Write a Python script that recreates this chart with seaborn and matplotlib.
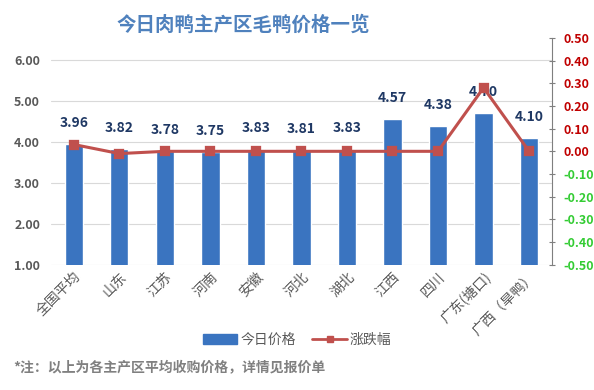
import numpy as np
import pandas as pd
import matplotlib
matplotlib.use("Agg")
import matplotlib.pyplot as plt
import seaborn as sns
from matplotlib.patches import Patch
from matplotlib.lines import Line2D

# =========================
# DATA
# =========================
regions = ["全国平均", "山东", "江苏", "河南", "安徽", "河北", "湖北",
           "江西", "四川", "广东(塘口)", "广西（旱鸭）"]
prices = [3.96, 3.82, 3.78, 3.75, 3.83, 3.81, 3.83, 4.57, 4.38, 4.70, 4.10]
changes = [0.03, -0.01, 0.00, 0.00, 0.00, 0.00, 0.00, 0.00, 0.00, 0.28, 0.00]

right_ticks = [0.5, 0.4, 0.3, 0.2, 0.1, 0.0, -0.1, -0.2, -0.3, -0.4, -0.5]

BAR_COLOR = "#3a74c0"
LINE_COLOR = "#c0504d"
TXT_GRAY = "#595959"

sns.set_style("white")
plt.rcParams["font.family"] = ["Noto Sans CJK SC", "DejaVu Sans"]

df = pd.DataFrame({"region": regions, "price": prices, "change": changes})

fig = plt.figure(figsize=(5.94, 3.9), dpi=100)
ax = fig.add_axes([0.086, 0.321, 0.843, 0.582])

sns.barplot(data=df, x="region", y="price", color=BAR_COLOR, width=0.4,
            saturation=1, ax=ax, zorder=2)
ax.set_ylim(1, 6.54)
ax.set_yticks([1, 2, 3, 4, 5, 6])
ax.set_yticklabels([f"{v:.2f}" for v in [1, 2, 3, 4, 5, 6]],
                   fontsize=9, fontweight="bold", color=TXT_GRAY)
ax.yaxis.grid(True, color="#d9d9d9", linewidth=0.8, zorder=0)
ax.set_axisbelow(True)
ax.set_xlabel("")
ax.set_ylabel("")
for s in ax.spines.values():
    s.set_visible(False)
ax.tick_params(axis="both", length=0)
ax.tick_params(axis="y", pad=8)
ax.set_xticks(range(len(regions)))
ax.set_xticklabels(regions, rotation=45, ha="right", rotation_mode="anchor",
                   fontsize=10, color=TXT_GRAY)

for i, v in enumerate(prices):
    ax.annotate(f"{v:.2f}", (i, v), xytext=(0, 10), textcoords="offset points",
                ha="center", va="bottom", fontsize=10, fontweight="bold",
                color="#1f3864", zorder=5)

ax2 = ax.twinx()
sns.pointplot(data=df, x="region", y="change", color=LINE_COLOR, markers="s",
              markersize=6, linewidth=2.2, ax=ax2)
ax2.set_ylim(-0.5, 0.5)
ax2.set_yticks(right_ticks)
ax2.set_yticklabels([f"{v:.2f}" for v in right_ticks], fontsize=9,
                    fontweight="bold")
for lbl, v in zip(ax2.get_yticklabels(), right_ticks):
    lbl.set_color("#c00000" if v >= 0 else "#33cc33")
ax2.set_ylabel("")
ax2.set_xlabel("")
for name, s in ax2.spines.items():
    s.set_visible(name == "right")
ax2.spines["right"].set_color("#7f7f7f")
ax2.tick_params(axis="y", direction="inout", length=5, color="#7f7f7f", pad=6)
ax2.set_xlim(-0.5, len(regions) - 0.5)
ax.set_xlim(-0.5, len(regions) - 0.5)

fig.text(0.41, 0.935, "今日肉鸭主产区毛鸭价格一览", ha="center", va="center",
         fontsize=14, fontweight="bold", color="#4f81bd")

handles = [Patch(facecolor=BAR_COLOR, edgecolor=BAR_COLOR),
           Line2D([0], [0], color=LINE_COLOR, lw=2, marker="s", markersize=5)]
fig.legend(handles, ["今日价格", "涨跌幅"], loc="center",
           bbox_to_anchor=(0.5, 0.128), ncol=2, frameon=False, fontsize=10,
           handlelength=2.5, columnspacing=1.2, handletextpad=0.2,
           labelcolor=TXT_GRAY)

fig.text(0.023, 0.056, "*注：以上为各主产区平均收购价格，详情见报价单",
         fontsize=10, fontweight="bold", color="#808080", va="center")

fig.savefig("out.png", dpi=100)
